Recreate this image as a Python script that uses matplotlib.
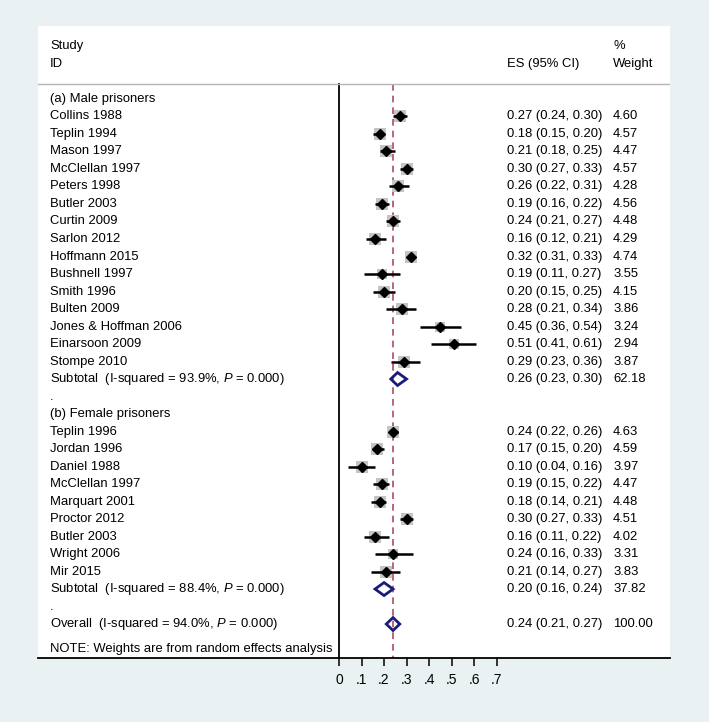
import matplotlib
matplotlib.use("Agg")
import matplotlib.pyplot as plt
from matplotlib.patches import Polygon

plt.rcParams['font.family'] = ['Liberation Sans', 'DejaVu Sans']
plt.rcParams['mathtext.fontset'] = 'custom'
plt.rcParams['mathtext.rm'] = 'Liberation Sans'
plt.rcParams['mathtext.it'] = 'Liberation Sans:italic'

# --- data ---
male_studies = ["Collins 1988", "Teplin 1994", "Mason 1997", "McClellan 1997", "Peters 1998",
                "Butler 2003", "Curtin 2009", "Sarlon 2012", "Hoffmann 2015", "Bushnell 1997",
                "Smith 1996", "Bulten 2009", "Jones & Hoffman 2006", "Einarsoon 2009", "Stompe 2010"]
male_es = [0.27, 0.18, 0.21, 0.30, 0.26, 0.19, 0.24, 0.16, 0.32, 0.19, 0.20, 0.28, 0.45, 0.51, 0.29]
male_lo = [0.24, 0.15, 0.18, 0.27, 0.22, 0.16, 0.21, 0.12, 0.31, 0.11, 0.15, 0.21, 0.36, 0.41, 0.23]
male_hi = [0.30, 0.20, 0.25, 0.33, 0.31, 0.22, 0.27, 0.21, 0.33, 0.27, 0.25, 0.34, 0.54, 0.61, 0.36]
male_wt = [4.60, 4.57, 4.47, 4.57, 4.28, 4.56, 4.48, 4.29, 4.74, 3.55, 4.15, 3.86, 3.24, 2.94, 3.87]
male_sub = (0.26, 0.23, 0.30, 62.18)
male_isq = "93.9%"

female_studies = ["Teplin 1996", "Jordan 1996", "Daniel 1988", "McClellan 1997", "Marquart 2001",
                  "Proctor 2012", "Butler 2003", "Wright 2006", "Mir 2015"]
female_es = [0.24, 0.17, 0.10, 0.19, 0.18, 0.30, 0.16, 0.24, 0.21]
female_lo = [0.22, 0.15, 0.04, 0.15, 0.14, 0.27, 0.11, 0.16, 0.14]
female_hi = [0.26, 0.20, 0.16, 0.22, 0.21, 0.33, 0.22, 0.33, 0.27]
female_wt = [4.63, 4.59, 3.97, 4.47, 4.48, 4.51, 4.02, 3.31, 3.83]
female_sub = (0.20, 0.16, 0.24, 37.82)
female_isq = "88.4%"

overall = (0.24, 0.21, 0.27, 100.00)
overall_isq = "94.0%"

ticks = [0, 0.1, 0.2, 0.3, 0.4, 0.5, 0.6, 0.7]
tick_labels = ["0", ".1", ".2", ".3", ".4", ".5", ".6", ".7"]

# --- layout ---
FS = 9.4
X_LABEL, X_ES, X_WT = -1.284, 0.747, 1.218
TOP_LINE = -0.86
BOTTOM = 31.94

fig = plt.figure(figsize=(7.09, 7.22), dpi=100)
fig.patch.set_facecolor('#e9f1f3')
ax = fig.add_axes([38 / 709, 1 - 658 / 722, 632 / 709, 632 / 722])
ax.set_facecolor('white')
ax.set_xlim(-1.338, 1.471)
ax.set_ylim(BOTTOM, -4.17)
for s in ['top', 'left', 'right']:
    ax.spines[s].set_visible(False)
ax.spines['bottom'].set_linewidth(1.3)
ax.set_yticks([])
ax.set_xticks(ticks)
ax.set_xticklabels(tick_labels, fontsize=10)
ax.tick_params(axis='x', length=6, width=1.1, pad=5)


def fmt(es, lo, hi):
    return f"{es:.2f} ({lo:.2f}, {hi:.2f})"


def draw_study(row, name, es, lo, hi, wt):
    ax.scatter([es], [row], s=17.0 * wt, marker='s', color='#c4c4c4', zorder=2, linewidths=0)
    ax.plot([lo, hi], [row, row], color='black', lw=1.8, zorder=3, solid_capstyle='butt')
    ax.plot([es], [row], marker='D', ms=4.8, color='black', zorder=4)
    ax.text(X_LABEL, row, name, fontsize=FS, va='center')
    ax.text(X_ES, row, fmt(es, lo, hi), fontsize=FS, va='center')
    ax.text(X_WT, row, f"{wt:.2f}", fontsize=FS, va='center')


def draw_pooled(row, label, vals):
    es, lo, hi, wt = vals
    h = 0.37
    ax.add_patch(Polygon([(lo, row), (es, row - h), (hi, row), (es, row + h)], closed=True,
                         facecolor='none', edgecolor='#1b1b7a', lw=2, zorder=4))
    ax.text(X_LABEL, row, label, fontsize=FS, va='center')
    ax.text(X_ES, row, fmt(es, lo, hi), fontsize=FS, va='center')
    ax.text(X_WT, row, f"{wt:.2f}", fontsize=FS, va='center')


# header
ax.text(X_LABEL, -3, "Study", fontsize=FS, va='center')
ax.text(X_LABEL, -2, "ID", fontsize=FS, va='center')
ax.text(X_ES, -2, "ES (95% CI)", fontsize=FS, va='center')
ax.text(X_WT, -3, "%", fontsize=FS, va='center')
ax.text(X_WT, -2, "Weight", fontsize=FS, va='center')
ax.axhline(TOP_LINE, color='#b5b5b5', lw=1)

row = 0
ax.text(X_LABEL, row, "(a) Male prisoners", fontsize=FS, va='center')
for i in range(len(male_studies)):
    row += 1
    draw_study(row, male_studies[i], male_es[i], male_lo[i], male_hi[i], male_wt[i])
row += 1
draw_pooled(row, f"Subtotal  (I-squared = {male_isq}, $\\mathit{{P}}$ = 0.000)", male_sub)
row += 1
ax.text(X_LABEL, row, ".", fontsize=FS, va='center')
row += 1
ax.text(X_LABEL, row, "(b) Female prisoners", fontsize=FS, va='center')
for i in range(len(female_studies)):
    row += 1
    draw_study(row, female_studies[i], female_es[i], female_lo[i], female_hi[i], female_wt[i])
row += 1
draw_pooled(row, f"Subtotal  (I-squared = {female_isq}, $\\mathit{{P}}$ = 0.000)", female_sub)
row += 1
ax.text(X_LABEL, row, ".", fontsize=FS, va='center')
row += 1
draw_pooled(row, f"Overall  (I-squared = {overall_isq}, $\\mathit{{P}}$ = 0.000)", overall)
ax.text(X_LABEL, row + 1.45, "NOTE: Weights are from random effects analysis", fontsize=FS, va='center')

# null line and overall effect line
ax.plot([0, 0], [TOP_LINE, BOTTOM], color='black', lw=1.3, zorder=1)
ax.plot([overall[0], overall[0]], [TOP_LINE, BOTTOM], color='#a8505f', lw=1.2,
        ls=(0, (4, 3)), zorder=1)

fig.savefig("out.png", dpi=100, facecolor=fig.get_facecolor())
